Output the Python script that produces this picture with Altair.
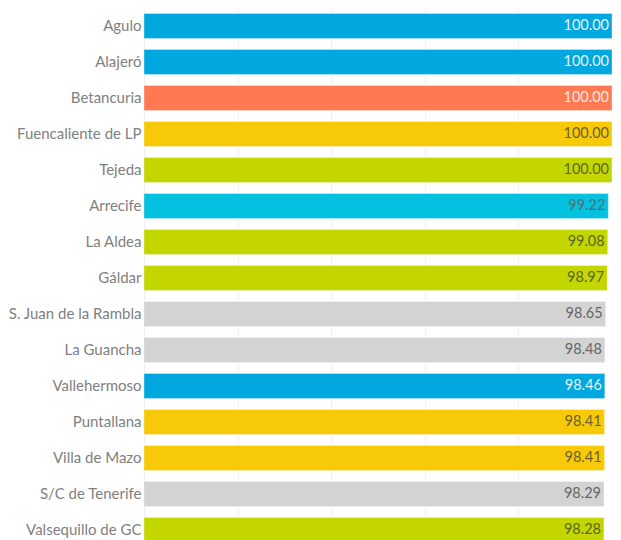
import altair as alt
import pandas as pd

municipios = ["Agulo", "Alajeró", "Betancuria", "Fuencaliente de LP", "Tejeda",
              "Arrecife", "La Aldea", "Gáldar", "S. Juan de la Rambla", "La Guancha",
              "Vallehermoso", "Puntallana", "Villa de Mazo", "S/C de Tenerife",
              "Valsequillo de GC"]
valores = [100.00, 100.00, 100.00, 100.00, 100.00, 99.22, 99.08, 98.97, 98.65,
           98.48, 98.46, 98.41, 98.41, 98.29, 98.28]
islas = ["La Gomera", "La Gomera", "Fuerteventura", "La Palma", "Gran Canaria",
         "Lanzarote", "Gran Canaria", "Gran Canaria", "Tenerife", "Tenerife",
         "La Gomera", "La Palma", "La Palma", "Tenerife", "Gran Canaria"]

isla_nombres = ["La Gomera", "Fuerteventura", "La Palma", "Gran Canaria", "Lanzarote", "Tenerife"]
isla_colores = ["#00A8DF", "#FF7A53", "#F8C906", "#C3D600", "#03C1DF", "#D3D3D3"]
texto_colores = ["#E6F2F5", "#F5E8E2", "#6B6035", "#5C6626", "#4F6F78", "#666666"]

df = pd.DataFrame({"municipio": municipios, "valor": valores, "isla": islas})

y = alt.Y("municipio:N", sort=municipios, title=None,
          scale=alt.Scale(paddingInner=0.3, paddingOuter=0.15),
          axis=alt.Axis(domain=False, ticks=False, labelPadding=3,
                        labelFont="Lato", labelFontSize=15, labelColor="#808080"))
x = alt.X("valor:Q", title=None, scale=alt.Scale(domain=[0, 100], nice=False),
          axis=alt.Axis(values=[0, 20, 40, 60, 80, 100], labels=False, ticks=False,
                        domain=False, gridColor="#F0F0F0", gridWidth=1))

bars = alt.Chart(df).mark_bar(strokeWidth=1, stroke="white", strokeOpacity=0.35).encode(
    x=x, y=y,
    color=alt.Color("isla:N", scale=alt.Scale(domain=isla_nombres, range=isla_colores), legend=None),
)

labels = alt.Chart(df).mark_text(align="right", dx=-3, font="Lato", fontSize=14.5).encode(
    x="valor:Q", y=alt.Y("municipio:N", sort=municipios),
    text=alt.Text("valor:Q", format=".2f"),
    color=alt.Color("isla:N", scale=alt.Scale(domain=isla_nombres, range=texto_colores), legend=None),
)

chart = alt.layer(bars, labels).resolve_scale(color="independent").properties(
    width=468, height=540,
    autosize=alt.AutoSizeParams(type="none"),
    padding={"left": 136, "top": 0, "right": 0, "bottom": 0},
).configure_view(stroke=None)

chart.save("out.html", embed_options={"renderer": "svg", "actions": False})
